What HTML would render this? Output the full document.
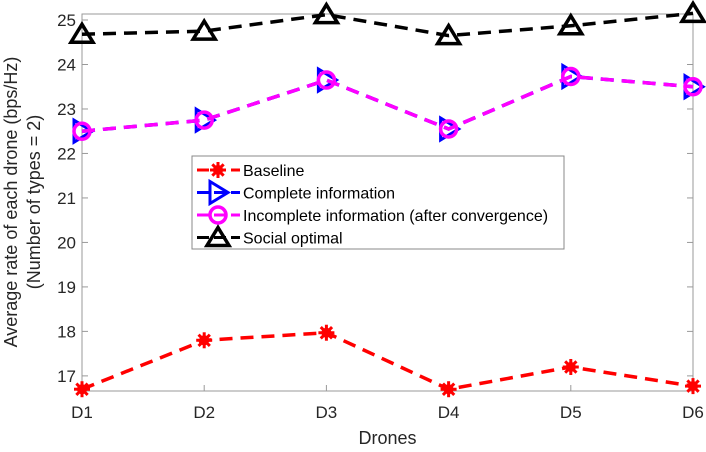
<!DOCTYPE html>
<html><head><meta charset="utf-8"><style>
body{margin:0;background:#fff;font-family:"Liberation Sans",sans-serif}
</style></head><body>
<svg id="chart" width="706" height="447" xmlns="http://www.w3.org/2000/svg" font-family="Liberation Sans, sans-serif"></svg>
<script>
const categories=["D1","D2","D3","D4","D5","D6"];
const baseline=[16.7,17.8,17.97,16.7,17.2,16.77];
const complete=[22.5,22.75,23.65,22.55,23.73,23.5];
const incomplete=[22.5,22.75,23.65,22.55,23.73,23.5];
const social=[24.68,24.75,25.12,24.65,24.87,25.15];
const yTicks=[17,18,19,20,21,22,23,24,25];
const svg=document.getElementById('chart');
const NS='http://www.w3.org/2000/svg';
const L=82,R=693,T=14,B=391,ymin=16.66,ymax=25.135;
const x=i=>L+i*(R-L)/(categories.length-1);
const y=v=>B-(v-ymin)/(ymax-ymin)*(B-T);
function el(t,a,p){const e=document.createElementNS(NS,t);for(const k in a)e.setAttribute(k,a[k]);(p||svg).appendChild(e);return e;}
const frame=el('rect',{x:L,y:T,width:R-L,height:B-T,fill:'#fff',stroke:'#999','stroke-width':1});


yTicks.forEach(v=>{
 const tk=el('line',{x1:L,x2:L+6,y1:y(v),y2:y(v),stroke:'#999'});
 
 
 const tk2=el('line',{x1:R,x2:R-6,y1:y(v),y2:y(v),stroke:'#999'});
 
 
 const t=el('text',{x:L-6,y:y(v)+6,'text-anchor':'end','font-size':17,fill:'#262626'});t.textContent=v;
 
 
});
categories.forEach((c,i)=>{
 const tk=el('line',{x1:x(i),x2:x(i),y1:B,y2:B-6,stroke:'#999'});
 
 
 const t=el('text',{x:x(i),y:418,'text-anchor':'middle','font-size':17,fill:'#262626'});t.textContent=c;
 
 
});
const xt=el('text',{x:(L+R)/2,y:444,'text-anchor':'middle','font-size':18,fill:'#262626'});xt.textContent='Drones';


const yt=el('text',{transform:'translate(17,202) rotate(-90)','text-anchor':'middle','font-size':18,fill:'#262626'});


const s1=el('tspan',{x:0,dy:0},yt);s1.textContent='Average rate of each drone (bps/Hz)';
const s2=el('tspan',{x:0,dy:23},yt);s2.textContent='(Number of types = 2)';
function marker(kind,cx,cy,color,g){
 if(kind==='star'){for(let a=0;a<4;a++){const an=a*Math.PI/4;el('line',{x1:cx-8*Math.cos(an),y1:cy-8*Math.sin(an),x2:cx+8*Math.cos(an),y2:cy+8*Math.sin(an),stroke:color,'stroke-width':3},g);}el('circle',{cx,cy,r:5,fill:color},g);}
 else if(kind==='tri-right'){el('polygon',{points:`${cx-8},${cy-11} ${cx+10},${cy} ${cx-8},${cy+11}`,fill:'none',stroke:color,'stroke-width':3},g);}
 else if(kind==='circle'){el('circle',{cx,cy,r:8,fill:'none',stroke:color,'stroke-width':3.5},g);}
 else if(kind==='tri-up'){el('polygon',{points:`${cx},${cy-10} ${cx+11},${cy+8} ${cx-11},${cy+8}`,fill:'none',stroke:color,'stroke-width':3.5},g);}
}
const series=[[baseline,'#ff0000','star','series-baseline'],[complete,'#0000ff','tri-right','series-complete'],[incomplete,'#ff00ff','circle','series-incomplete'],[social,'#000000','tri-up','series-social']];
series.forEach(([d,c,m,n])=>{
 const g=el('g',{});
 
 
 el('polyline',{points:d.map((v,i)=>x(i)+','+y(v)).join(' '),fill:'none',stroke:c,'stroke-width':3.5,'stroke-dasharray':'13,8'},g);
 d.forEach((v,i)=>marker(m,x(i),y(v),c,g));
});
const lg=el('g',{});


el('rect',{x:192,y:156,width:372,height:93,fill:'#fff',stroke:'#888'},lg);
const labels=['Baseline','Complete information','Incomplete information (after convergence)','Social optimal'];
series.forEach(([d,c,m,n],i)=>{
 const yy=170+i*22.5;
 const e=el('g',{},lg);
 
 
 el('line',{x1:197,x2:240,y1:yy,y2:yy,stroke:c,'stroke-width':3,'stroke-dasharray':'12,5'},e);
 marker(m,218,yy,c,e);
 const t=el('text',{x:243,y:yy+6,'font-size':16,fill:'#000'},e);t.textContent=labels[i];
});
</script>
</body></html>
